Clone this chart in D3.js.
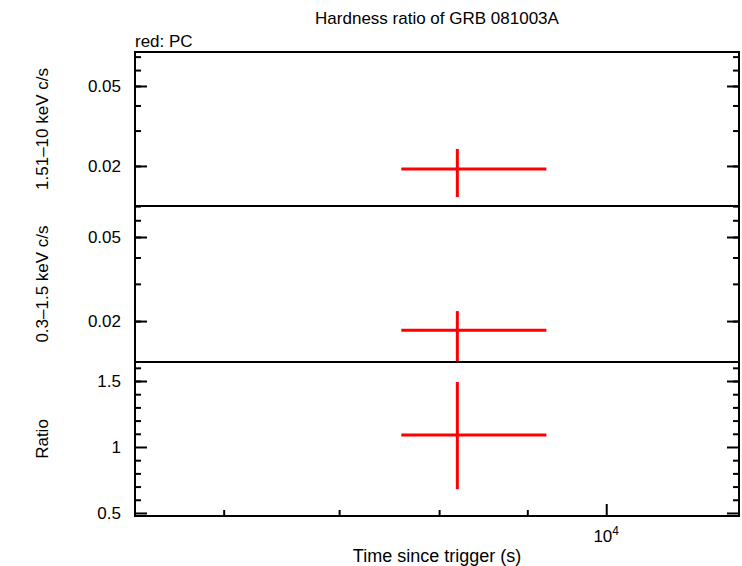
<!DOCTYPE html><html><head><script src="https://cdn.jsdelivr.net/npm/d3@7"></script>
<style>body{margin:0;background:#fff}text{font-family:"Liberation Sans",Arial,sans-serif}</style></head><body><svg id="c" width="742" height="566"></svg>
<script>
const xDomain=[5330,11940];
const xMajor=[10000];
const xMinor=[6000,7000,8000,9000];
const hardPt={t:8197,t0:7606,t1:9232};
const hardY={v:0.0193,lo:0.0140,hi:0.0243};
const softY={v:0.0181,lo:0.0125,hi:0.0223};
const ratioY={v:1.09,lo:0.68,hi:1.492};
const topTicks=[0.02,0.05], topMinor=[0.02,0.03,0.04,0.05,0.06,0.07];
const ratioTicks=[0.5,1,1.5];
const svg=d3.select("#c");
const L=135,R=739;
const x=d3.scaleLog().domain(xDomain).range([L,R]);
const panels=[
 {y0:52,y1:206,s:d3.scaleLog().domain([0.01264,0.0738]),ticks:topTicks,minor:topMinor,d:hardY,lab:"1.51–10 keV c/s",fmt:d=>d+""},
 {y0:206,y1:362,s:d3.scaleLog().domain([0.0128,0.0701]),ticks:topTicks,minor:topMinor,d:softY,lab:"0.3–1.5 keV c/s",fmt:d=>d+""},
 {y0:362,y1:516,s:d3.scaleLinear().domain([0.477,1.644]),ticks:ratioTicks,minor:[0.6,0.7,0.8,0.9,1.1,1.2,1.3,1.4,1.5,1.6],lab:"Ratio",d:ratioY,fmt:d=>d+"",bottom:true}
];
panels.forEach((p,i)=>{
 const y=p.s.range([p.y1,p.y0]);
 const g=svg.append("g");
 const clip="cl"+i;
 svg.append("clipPath").attr("id",clip).append("rect").attr("x",L).attr("y",p.y0).attr("width",R-L).attr("height",p.y1-p.y0);
 const m=g.append("g").attr("clip-path",`url(#${clip})`);
 m.append("line").attr("x1",x(hardPt.t0)).attr("x2",x(hardPt.t1)).attr("y1",y(p.d.v)).attr("y2",y(p.d.v)).attr("stroke","#f00").attr("stroke-width",3);
 m.append("line").attr("x1",x(hardPt.t)).attr("x2",x(hardPt.t)).attr("y1",y(p.d.lo)).attr("y2",y(p.d.hi)).attr("stroke","#f00").attr("stroke-width",3);
 g.append("g").attr("transform",`translate(${L},0)`).call(d3.axisLeft(y).tickValues(p.ticks).tickFormat(p.fmt).tickSize(-12).tickPadding(14)).call(a=>{a.select(".domain").remove();a.selectAll("text").attr("font-size",17);a.selectAll("line").attr("stroke-width",2)});
 g.append("g").attr("transform",`translate(${L},0)`).call(d3.axisLeft(y).tickValues(p.minor).tickFormat("").tickSize(-6)).call(a=>{a.select(".domain").remove();a.selectAll("line").attr("stroke-width",2)});
 g.append("g").attr("transform",`translate(${R},0)`).call(d3.axisRight(y).tickValues(p.ticks).tickFormat("").tickSize(-12)).call(a=>{a.select(".domain").remove();a.selectAll("line").attr("stroke-width",2)});
 g.append("g").attr("transform",`translate(${R},0)`).call(d3.axisRight(y).tickValues(p.minor).tickFormat("").tickSize(-6)).call(a=>{a.select(".domain").remove();a.selectAll("line").attr("stroke-width",2)});
 if(p.bottom){
  g.append("g").attr("transform",`translate(0,${p.y1})`).call(d3.axisTop(x).tickValues(xMajor).tickFormat("").tickSize(12)).call(a=>{a.select(".domain").remove();a.selectAll("line").attr("stroke-width",2)});
  g.append("g").attr("transform",`translate(0,${p.y1})`).call(d3.axisTop(x).tickValues(xMinor).tickFormat("").tickSize(6)).call(a=>{a.select(".domain").remove();a.selectAll("line").attr("stroke-width",2)});
 }
 g.append("rect").attr("x",L).attr("y",p.y0).attr("width",R-L).attr("height",p.y1-p.y0).attr("fill","none").attr("stroke","#000").attr("stroke-width",2);
 g.append("text").attr("transform",`translate(48,${(p.y0+p.y1)/2}) rotate(-90)`).attr("text-anchor","middle").attr("font-size",17).text(p.lab);
});
const xt=svg.append("text").attr("x",x(10000)).attr("y",542).attr("text-anchor","middle").attr("font-size",17);
xt.append("tspan").text("10");xt.append("tspan").attr("dy",-7).attr("font-size",12).text("4");
svg.append("text").attr("x",437).attr("y",562).attr("text-anchor","middle").attr("font-size",18).text("Time since trigger (s)");
svg.append("text").attr("x",437).attr("y",24).attr("text-anchor","middle").attr("font-size",17).text("Hardness ratio of GRB 081003A");
svg.append("text").attr("x",135).attr("y",47).attr("font-size",17).text("red: PC");
</script></body></html>
